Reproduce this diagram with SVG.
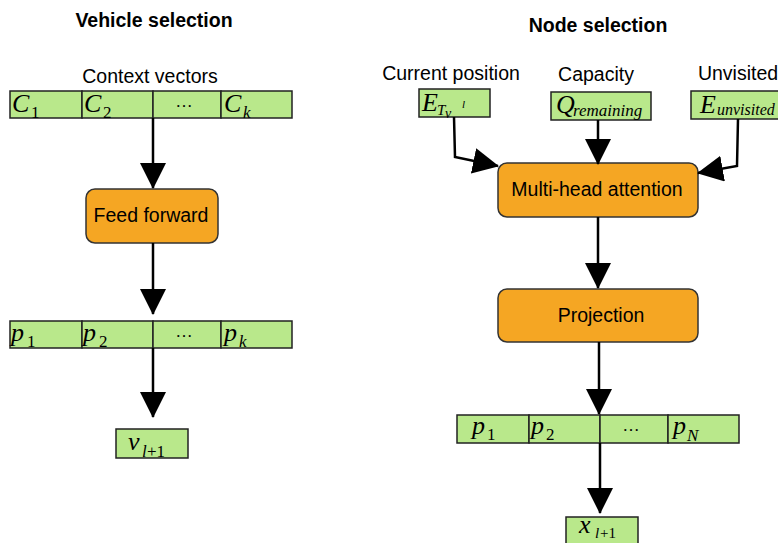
<svg xmlns="http://www.w3.org/2000/svg" width="778" height="543" viewBox="0 0 778 543">
<style>
.title{font-family:"Liberation Sans",Arial,sans-serif;font-weight:bold;font-size:19.5px;fill:#000;text-anchor:middle}
.lbl{font-family:"Liberation Sans",Arial,sans-serif;font-size:19.5px;fill:#000;text-anchor:middle}
.cell{fill:#b9e88b;stroke:#222;stroke-width:1.5}
.proc{fill:#f5a623;stroke:#333;stroke-width:1.5}
.m{font-family:"Liberation Serif","Times New Roman",serif;font-style:italic;font-size:26px;fill:#000}
.s{font-family:"Liberation Serif","Times New Roman",serif;font-size:17px;fill:#000}
.si{font-family:"Liberation Serif","Times New Roman",serif;font-style:italic;font-size:17px;fill:#000}
.dots{font-family:"Liberation Serif",serif;font-size:17px;fill:#000;text-anchor:middle}
.c{fill:none;stroke:#000;stroke-width:2.5}
</style>
<defs>
<marker id="ah" markerUnits="userSpaceOnUse" viewBox="0 0 26 26" markerWidth="26" markerHeight="26" refX="25" refY="13" orient="auto">
<path d="M0,0 L26,13 L0,26 z" fill="#000"/>
</marker>
</defs>

<text class="title" x="154" y="27">Vehicle selection</text>
<text class="title" x="598" y="32">Node selection</text>

<g id="context-vectors">
<text class="lbl" x="150" y="83">Context vectors</text>
<rect class="cell" x="10" y="91" width="72" height="27"/>
<rect class="cell" x="82" y="91" width="71" height="27"/>
<rect class="cell" x="153" y="91" width="68" height="27"/>
<rect class="cell" x="221" y="91" width="71" height="27"/>
<text class="m" x="12" y="112">C</text><text class="s" x="31" y="118">1</text>
<text class="m" x="84" y="112">C</text><text class="s" x="103" y="118">2</text>
<text class="dots" x="184" y="107">…</text>
<text class="m" x="224" y="112">C</text><text class="si" x="243" y="118">k</text>
</g>

<g id="feed-forward">
<rect class="proc" x="86" y="189" width="132" height="54" rx="9"/>
<text class="lbl" x="151" y="222">Feed forward</text>
</g>

<g id="vehicle-probs">
<rect class="cell" x="10" y="321" width="72" height="27"/>
<rect class="cell" x="82" y="321" width="71" height="27"/>
<rect class="cell" x="153" y="321" width="68" height="27"/>
<rect class="cell" x="221" y="321" width="71" height="27"/>
<text class="m" x="11" y="341">p</text><text class="s" x="27" y="347">1</text>
<text class="m" x="83" y="341">p</text><text class="s" x="99" y="347">2</text>
<text class="dots" x="184" y="337">…</text>
<text class="m" x="224" y="341">p</text><text class="si" x="239" y="347">k</text>
</g>

<g id="vehicle-out">
<rect class="cell" x="116" y="429" width="72" height="29"/>
<text class="m" x="128" y="450">v</text><text class="si" x="142" y="457">l</text><text class="s" x="147" y="457">+1</text>
</g>

<g id="current-position">
<text class="lbl" x="451" y="80">Current position</text>
<rect class="cell" x="419" y="89" width="71" height="28"/>
<text class="m" x="422" y="111">E</text><text class="si" x="437" y="115" style="font-size:15px">T</text><text class="si" x="445" y="118" style="font-size:14px">v</text><text class="si" x="462" y="108" style="font-size:11px">l</text>
</g>

<g id="capacity">
<text class="lbl" x="596" y="81">Capacity</text>
<rect class="cell" x="551" y="92" width="100" height="28"/>
<text class="m" x="556" y="113">Q</text><text class="si" x="573" y="116">remaining</text>
</g>

<g id="unvisited">
<text class="lbl" x="738" y="80">Unvisited</text>
<rect class="cell" x="691" y="91" width="88" height="28"/>
<text class="m" x="700" y="113">E</text><text class="si" x="717" y="115" style="font-size:16px">unvisited</text>
</g>

<g id="multi-head-attention">
<rect class="proc" x="498" y="163" width="200" height="54" rx="9"/>
<text class="lbl" x="597" y="196">Multi-head attention</text>
</g>

<g id="projection">
<rect class="proc" x="498" y="289" width="200" height="53" rx="9"/>
<text class="lbl" x="601" y="322">Projection</text>
</g>

<g id="node-probs">
<rect class="cell" x="457" y="415" width="72" height="28"/>
<rect class="cell" x="529" y="415" width="71" height="28"/>
<rect class="cell" x="600" y="415" width="68" height="28"/>
<rect class="cell" x="668" y="415" width="71" height="28"/>
<text class="m" x="472" y="434">p</text><text class="s" x="487" y="440">1</text>
<text class="m" x="531" y="434">p</text><text class="s" x="546" y="440">2</text>
<text class="dots" x="631" y="431">…</text>
<text class="m" x="673" y="434">p</text><text class="si" x="687" y="441">N</text>
</g>

<g id="node-out">
<rect class="cell" x="566" y="517" width="72" height="30"/>
<text class="m" x="579" y="533">x</text><text class="si" x="595" y="538" style="font-size:15px">l</text><text class="s" x="600" y="538" style="font-size:15px">+1</text>
</g>

<g id="connectors">
<path class="c" d="M153,118 V188" marker-end="url(#ah)"/>
<path class="c" d="M153,243 V314" marker-end="url(#ah)"/>
<path class="c" d="M153,348 V417" marker-end="url(#ah)"/>
<path class="c" d="M454,117 L455,157 L498,166" marker-end="url(#ah)"/>
<path class="c" d="M598,120 V164" marker-end="url(#ah)"/>
<path class="c" d="M738,119 L737,166 L698,173" marker-end="url(#ah)"/>
<path class="c" d="M598,217 V288" marker-end="url(#ah)"/>
<path class="c" d="M599,342 V414" marker-end="url(#ah)"/>
<path class="c" d="M600,443 V513" marker-end="url(#ah)"/>
</g>
</svg>
